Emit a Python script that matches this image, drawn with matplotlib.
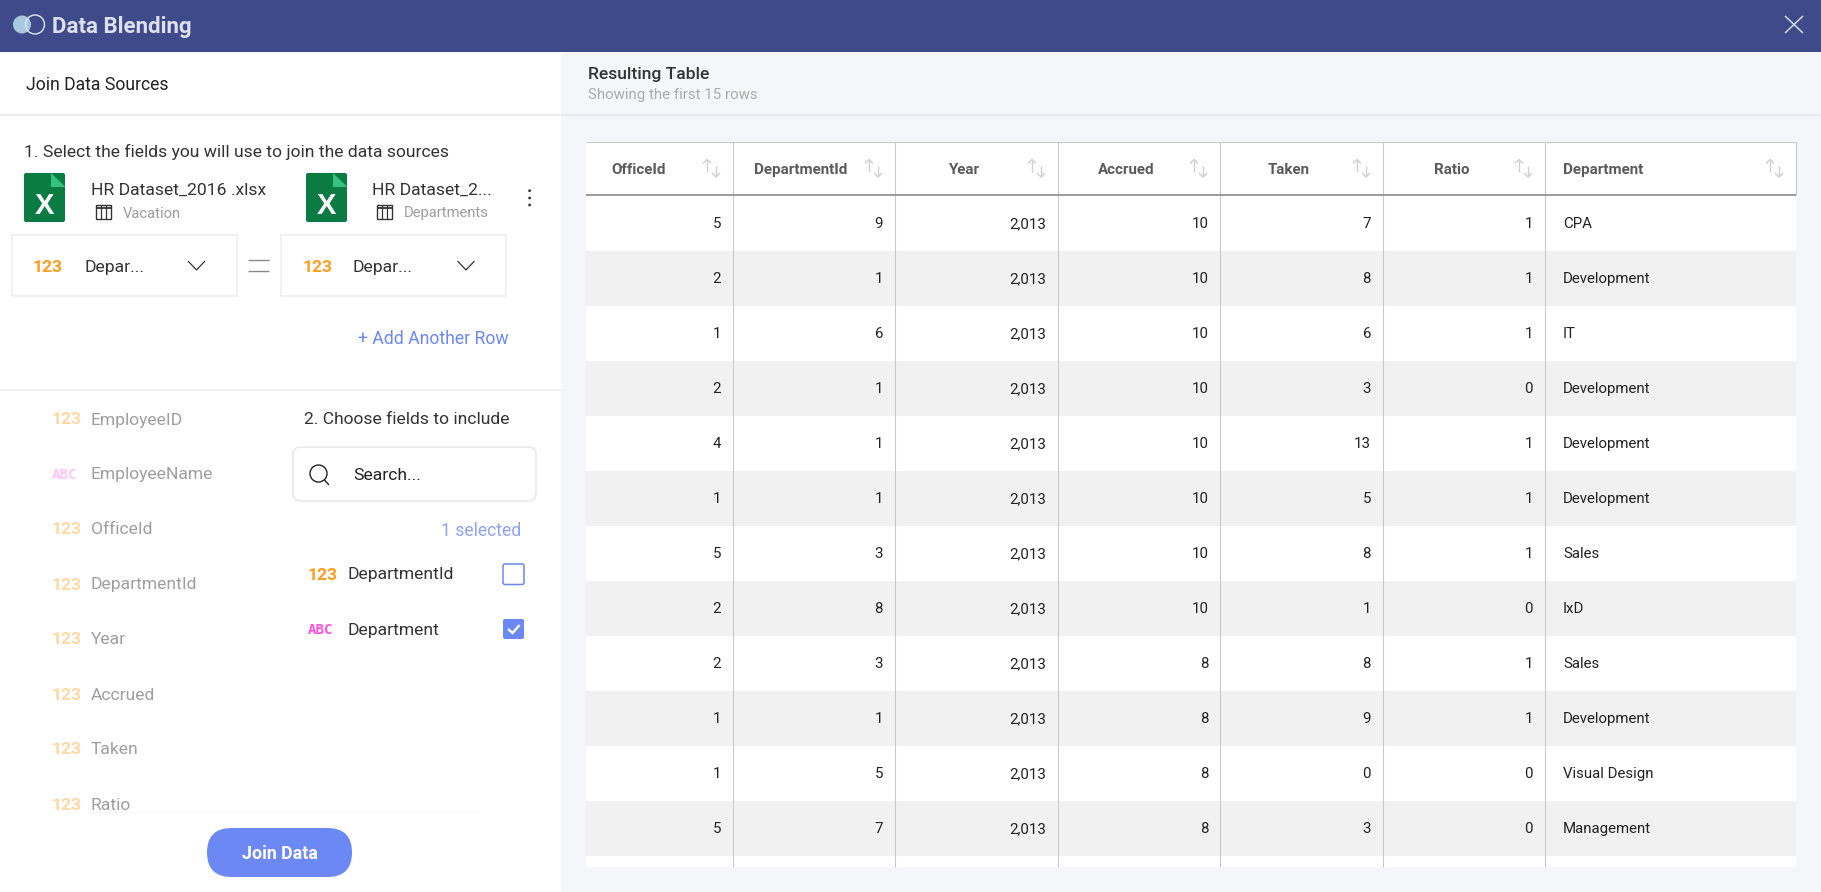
import matplotlib
matplotlib.use("Agg")
import matplotlib.pyplot as plt
from matplotlib.patches import Rectangle, FancyBboxPatch, Circle, Polygon

plt.rcParams['font.family'] = ['Roboto', 'DejaVu Sans']

# ---- data ----
columns = ["OfficeId", "DepartmentId", "Year", "Accrued", "Taken", "Ratio", "Department"]
office_id = [5, 2, 1, 2, 4, 1, 5, 2, 2, 1, 1, 5]
department_id = [9, 1, 6, 1, 1, 1, 3, 8, 3, 1, 5, 7]
year = [2013] * 12
accrued = [10, 10, 10, 10, 10, 10, 10, 10, 8, 8, 8, 8]
taken = [7, 8, 6, 3, 13, 5, 8, 1, 8, 9, 0, 3]
ratio = [1, 1, 1, 0, 1, 1, 1, 0, 1, 1, 0, 0]
department = ["CPA", "Development", "IT", "Development", "Development", "Development",
              "Sales", "IxD", "Sales", "Development", "Visual Design", "Management"]
field_names = ["EmployeeID", "EmployeeName", "OfficeId", "DepartmentId", "Year", "Accrued", "Taken", "Ratio"]
field_types = ["123", "ABC", "123", "123", "123", "123", "123", "123"]

# ---- layout (pixels) ----
W, H = 1821, 892
NAVY = "#3F4A8A"
BLUE = "#6C88F4"
col_edges = [586, 733, 895, 1058, 1220, 1383, 1545, 1796]
head_cx = [638.7, 801, 964, 1126.6, 1289, 1451.5]
val_right = [721, 883, 1046, 1209, 1371, 1533]
dept_x = 1563
sort_x = [707, 869, 1032, 1194, 1357, 1519, 1770]
row_top = 196
row_h = 55

fig = plt.figure(figsize=(W / 100, H / 100), dpi=100, facecolor="white")
ax = fig.add_axes([0, 0, 1, 1])
ax.set_xlim(0, W)
ax.set_ylim(H, 0)
ax.axis("off")


def rect(x0, y0, x1, y1, fc, ec="none", lw=0, z=1):
    ax.add_patch(Rectangle((x0, y0), x1 - x0, y1 - y0, facecolor=fc, edgecolor=ec, linewidth=lw, zorder=z))


def line(xs, ys, c, lw=1.0, z=3, cap="butt"):
    ax.plot(xs, ys, color=c, lw=lw, zorder=z, solid_capstyle=cap, solid_joinstyle="miter")


def txt(x, y, s, size=11, c="#222222", ha="left", weight="normal", z=5, **kw):
    ax.text(x, y, s, fontsize=size, color=c, ha=ha, va="center_baseline", fontweight=weight, zorder=z, **kw)


def rounded(x0, y0, x1, y1, r, fc, ec="none", lw=0, z=2):
    ax.add_patch(FancyBboxPatch((x0 + r, y0 + r), x1 - x0 - 2 * r, y1 - y0 - 2 * r,
                                boxstyle=f"round,pad={r},rounding_size={r}",
                                facecolor=fc, edgecolor=ec, linewidth=lw, zorder=z))


def type_tag(x, y, kind, color):
    if kind == "123":
        txt(x, y, kind, size=12.6, c=color, weight="bold")
    else:
        txt(x, y, kind, size=10.2, c=color, weight="bold", family="DejaVu Sans Mono")


def excel_icon(x0):
    y0, y1, x1 = 173, 222, x0 + 41
    rounded(x0, y0, x1, y1, 2, "#0A7B42", z=2)
    ax.add_patch(Polygon([[x1 - 14, y0], [x1 + 0.5, y0 + 14], [x1 - 14, y0 + 14]], facecolor="#35C27F", zorder=3))
    ax.add_patch(Polygon([[x1 - 0, y0 - 1], [x1 + 1, y0 - 1], [x1 + 1, y0 + 13]], facecolor="white", zorder=3))
    txt(x0 + 20.5, 202.5, "X", size=21, c="white", ha="center", weight="bold", family="Liberation Sans")


def grid_icon(x0):
    y0, y1 = 204.5, 219
    rect(x0, y0, x0 + 15, y1, "none", ec="#333333", lw=1.0, z=3)
    line([x0, x0 + 15], [y0 + 3, y0 + 3], "#333333", 1.3)
    for d in (5, 10):
        line([x0 + d, x0 + d], [y0, y1], "#333333", 0.9)


def chevron(x0):
    line([x0, x0 + 8.5, x0 + 17], [261, 270, 261], "#333333", 0.9)


# ---- chrome ----
rect(0, 0, W, H, "white", z=0)
rect(561, 52, W, H, "#F5F6FA", z=0)
rect(0, 0, W, 52, NAVY, z=1)
ax.add_patch(Circle((22, 24.5), 9, facecolor="#A9C7DE", edgecolor="none", zorder=2))
ax.add_patch(Circle((35, 24.5), 9.5, facecolor="none", edgecolor="#E4E8F4", linewidth=1.0, zorder=3))
txt(52.5, 24.5, "Data Blending", size=16, c="#DDE0EE", weight="bold")
line([1785, 1803], [16, 33], "#D5D8E8", 1.1)
line([1785, 1803], [33, 16], "#D5D8E8", 1.1)

# ---- left panel ----
line([0, 561], [115, 115], "#ECEDEF", 1.5)
line([561, W], [115, 115], "#E9EAEF", 1.5)
line([0, 561], [390, 390], "#F1F2F5", 1.5)
txt(26, 82.5, "Join Data Sources", size=12.7, c="#222222")
txt(24, 150.5, "1. Select the fields you will use to join the data sources", size=12.6, c="#333333")

excel_icon(24)
excel_icon(306)
txt(91, 188.5, "HR Dataset_2016 .xlsx", size=12.6, c="#333333")
txt(372, 188.5, "HR Dataset_2...", size=12.6, c="#333333")
grid_icon(96)
grid_icon(377)
txt(122.5, 212, "Vacation", size=10.6, c="#9C9C9C")
txt(403.5, 212, "Departments", size=10.6, c="#9C9C9C")
for yy in (190.7, 198, 205):
    ax.add_patch(Circle((529.6, yy), 1.4, facecolor="#333333", zorder=3))

for x0, x1, xtag, xlab, xch in [(11.5, 237, 33, 84, 188), (280.5, 506, 302.5, 352.5, 457.5)]:
    rect(x0, 235, x1, 296, "white", ec="#EEEEEE", lw=1.1, z=2)
    type_tag(xtag, 266, "123", "#FF9D1E")
    txt(xlab, 266, "Depar...", size=12.6, c="#333333")
    chevron(xch)
line([248, 268.5], [260, 260], "#8A8A8A", 1.0)
line([248, 268.5], [270.5, 270.5], "#8A8A8A", 1.0)
txt(358.5, 337, "+ Add Another Row", size=12.7, c=BLUE)

# field list
for i, (name, kind) in enumerate(zip(field_names, field_types)):
    y = 418.5 + i * 55
    type_tag(52, y, kind, "#FFD9A3" if kind == "123" else "#FFC4F6")
    txt(91, y, name, size=12.6, c="#9E9E9E")

txt(304.5, 418.5, "2. Choose fields to include", size=12.6, c="#333333")
rounded(293, 447, 536, 501, 8, "white", ec="#E8E8E8", lw=1.1)
ax.add_patch(Circle((318.5, 473.5), 8.5, facecolor="none", edgecolor="#222222", linewidth=1.0, zorder=3))
line([324.5, 329], [480, 485], "#222222", 1.0)
txt(353, 473.5, "Search...", size=12.6, c="#222222")
txt(521, 529, "1 selected", size=12.7, c="#8FA3F5", ha="right")

type_tag(307.5, 574, "123", "#FF9D1E")
txt(347.5, 573.5, "DepartmentId", size=12.6, c="#333333")
rounded(503, 564, 524, 584.5, 2, "white", ec=BLUE, lw=1.1)
type_tag(307.5, 629, "ABC", "#FF4FE4")
txt(347.5, 628.5, "Department", size=12.6, c="#333333")
rounded(503, 619, 524, 639, 2, BLUE)
line([508, 512.5, 519.5], [629, 633, 625], "white", 1.7, z=4)

# button (covers list bottom)
rect(0, 812, 561, H, "white", z=6)
line([90, 480], [811.5, 811.5], "#F8F8F8", 1.0, z=6)
rounded(207, 828, 352, 877, 24.5, BLUE, z=7)
txt(279.5, 852, "Join Data", size=12.8, c="white", ha="center", weight="bold", z=8)

# ---- right panel ----
txt(588.5, 73.5, "Resulting Table", size=12.6, c="#333333", weight="medium")
txt(588.5, 94, "Showing the first 15 rows", size=10.8, c="#ABABAB")

tbl_l, tbl_r = col_edges[0], col_edges[-1]
rect(tbl_l, 141.5, tbl_r, 867, "white", z=1)
series = [office_id, department_id, year, accrued, taken, ratio]
n_rows = len(office_id)
for r in range(n_rows):
    top = row_top + r * row_h
    if r % 2 == 1:
        rect(tbl_l, top - 0.5, tbl_r, top + row_h - 0.5, "#F1F1F1", z=2)
    yc = top + 26.5
    for values, xr in zip(series, val_right):
        txt(xr, yc, f"{values[r]:,}", size=10.8, c="#222222", ha="right")
    txt(dept_x, yc, department[r], size=10.8, c="#222222")

for xv in col_edges[1:-1]:
    line([xv, xv], [141.5, 867], "#C8C8C8", 0.75, z=3)
line([tbl_r, tbl_r], [141.5, 195], "#C8C8C8", 0.75, z=3)
line([tbl_l, tbl_r], [141.5, 141.5], "#C8C8C8", 0.75, z=3)
line([tbl_l, tbl_r], [195, 195], "#8A8A8A", 1.2, z=3)

for name, cx in zip(columns[:6], head_cx):
    txt(cx, 168.5, name, size=10.9, c="#5A5A5A", ha="center", weight="bold")
txt(dept_x, 168.5, columns[6], size=10.9, c="#5A5A5A", weight="bold")

for sx in sort_x:
    # up arrow then down arrow of the sort glyph
    line([sx, sx], [159.5, 171.5], "#CFCFCF", 1.0)
    line([sx - 4, sx, sx + 4], [163.5, 159.5, 163.5], "#CFCFCF", 1.0)
    line([sx + 9, sx + 9], [165.5, 177], "#CFCFCF", 1.0)
    line([sx + 5, sx + 9, sx + 13], [173, 177, 173], "#CFCFCF", 1.0)

fig.savefig("out.png", dpi=100)
